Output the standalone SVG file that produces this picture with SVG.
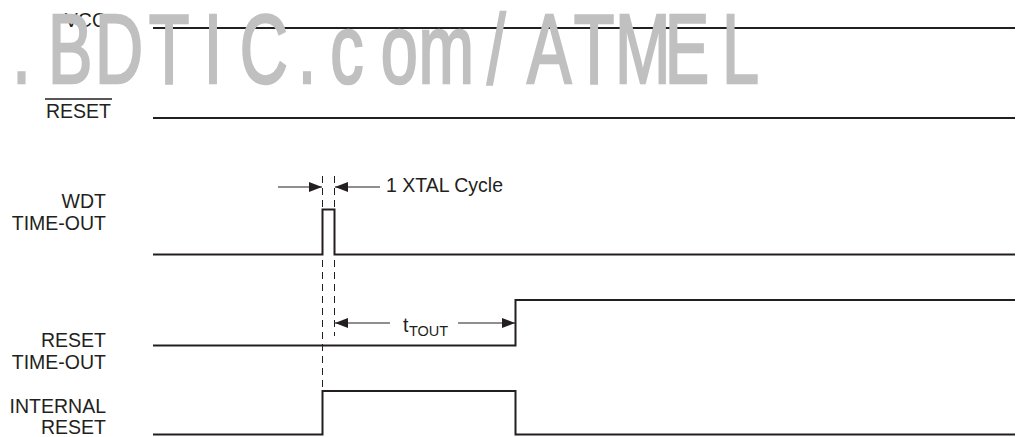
<svg xmlns="http://www.w3.org/2000/svg" width="1022" height="437" viewBox="0 0 1022 437">
<style>
.sig{fill:none;stroke:#231f20;stroke-width:2}
.lbl{font-family:"Liberation Sans",Arial,sans-serif;font-size:19.5px;fill:#231f20;text-anchor:end}
.ann{font-family:"Liberation Sans",Arial,sans-serif;font-size:19.5px;fill:#231f20}
.dash{fill:none;stroke:#231f20;stroke-width:1;stroke-dasharray:7 5}
.arr{fill:none;stroke:#231f20;stroke-width:1.2;marker-end:url(#ah)}
.wm{font-family:"Liberation Sans",Arial,sans-serif;font-size:98px;fill:#c0c0c0;stroke:#c0c0c0;stroke-width:2.5}
</style>
<defs>
<marker id="ah" markerUnits="userSpaceOnUse" markerWidth="14" markerHeight="10" refX="13" refY="5" orient="auto">
<path d="M0,0 L13,5 L0,10 z" fill="#231f20"/>
</marker>
</defs>
<rect width="1022" height="437" fill="#ffffff"/>
<g id="vcc">
<text class="lbl" x="106" y="27">VCC</text>
<path class="sig" d="M153,28 H1015"/>
</g>
<g id="reset">
<text class="lbl" x="111" y="118">RESET</text>
<path d="M45,99 H112" stroke="#231f20" stroke-width="1.5"/>
<path class="sig" d="M153,118 H1015"/>
</g>
<g id="wdt-timeout">
<text class="lbl" x="106" y="208">WDT</text>
<text class="lbl" x="106" y="230">TIME-OUT</text>
<path class="sig" d="M153,254.5 H322.5 V209.5 H334.5 V254.5 H1015"/>
</g>
<g id="reset-timeout">
<text class="lbl" x="106" y="347">RESET</text>
<text class="lbl" x="106" y="369">TIME-OUT</text>
<path class="sig" d="M153,345.5 H515.5 V300 H1015"/>
</g>
<g id="internal-reset">
<text class="lbl" x="106" y="413">INTERNAL</text>
<text class="lbl" x="106" y="434">RESET</text>
<path class="sig" d="M153,434.5 H322.5 V391 H515.5 V434.5 H1015"/>
</g>
<g id="connectors">
<path class="dash" d="M322.5,176 V391"/>
<path class="dash" d="M334.5,176 V336"/>
<path class="arr" d="M278,187 H322"/>
<path class="arr" d="M380,187 H335"/>
<text class="ann" x="386" y="192">1 XTAL Cycle</text>
<path class="arr" d="M390,323 H335"/>
<path class="arr" d="M458,323 H515"/>
<text class="ann" x="403" y="332">t<tspan x="409" y="336" font-size="14.5">TOUT</tspan></text>
</g>
<text class="wm" transform="scale(0.68,1)" y="83" x="18 70.7 139.6 218.6 299.6 352.5 438 485.8 559.8 615.6 716.2 775 843.6 904.5 977.6 1061.9">.BDTIC.com/ATMEL</text>
</svg>
